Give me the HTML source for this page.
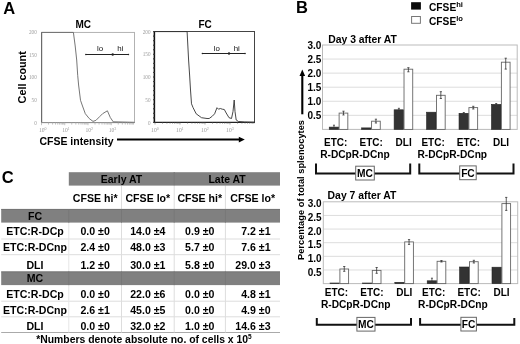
<!DOCTYPE html>
<html><head><meta charset="utf-8"><style>
html,body{margin:0;padding:0;background:#fff;}
svg{display:block;filter:blur(0.3px);}
</style></head><body>
<svg width="520" height="344" viewBox="0 0 520 344">
<rect width="520" height="344" fill="#fff"/>
<text x="3.3" y="14.4" font-size="16.5" font-weight="bold" font-family="&quot;Liberation Sans&quot;, sans-serif">A</text>
<text x="75.4" y="28" font-size="10" font-weight="bold" font-family="&quot;Liberation Sans&quot;, sans-serif">MC</text>
<text x="198.5" y="27.6" font-size="10" font-weight="bold" font-family="&quot;Liberation Sans&quot;, sans-serif">FC</text>
<rect x="41.5" y="32.4" width="93" height="90.2" fill="none" stroke="#aaa" stroke-width="0.9"/>
<line x1="41.7" y1="32.4" x2="41.7" y2="122.6" stroke="#5a5a5a" stroke-width="1"/>
<line x1="41.5" y1="122.6" x2="134.5" y2="122.6" stroke="#888" stroke-width="0.9"/>
<polyline fill="none" stroke="#666" stroke-width="0.9" points="41.5,32.4 73.4,32.4 75.2,46 76.7,60 77.7,75.3 78.6,85 80.5,100.3 82.5,106 85.3,113.7 89.2,118.5 93,121.4 95.9,120.4 99.7,116.6 102.6,113.7 107.4,110.8 110.3,117.5 113.2,121.8 134.5,122.3"/>
<line x1="85.7" y1="54.5" x2="128.6" y2="54.5" stroke="#222" stroke-width="1"/>
<circle cx="112.7" cy="54.5" r="1.2" fill="#222"/>
<circle cx="85.9" cy="54.5" r="0.8" fill="#222"/><circle cx="128.4" cy="54.5" r="0.8" fill="#222"/>
<text x="96.9" y="51.1" font-size="7.9" font-family="&quot;Liberation Sans&quot;, sans-serif" fill="#111">lo</text>
<text x="117.2" y="51.1" font-size="7.9" font-family="&quot;Liberation Sans&quot;, sans-serif" fill="#111">hi</text>
<text x="36.8" y="33.8" font-size="5.2" text-anchor="end" font-family="&quot;Liberation Serif&quot;, serif" fill="#999">200</text>
<text x="36.8" y="56.699999999999996" font-size="5.2" text-anchor="end" font-family="&quot;Liberation Serif&quot;, serif" fill="#999">150</text>
<text x="36.8" y="79.39999999999999" font-size="5.2" text-anchor="end" font-family="&quot;Liberation Serif&quot;, serif" fill="#999">100</text>
<text x="36.8" y="102.0" font-size="5.2" text-anchor="end" font-family="&quot;Liberation Serif&quot;, serif" fill="#999">50</text>
<text x="36.8" y="124.5" font-size="5.2" text-anchor="end" font-family="&quot;Liberation Serif&quot;, serif" fill="#999">0</text>
<text x="38.90" y="131.8" font-size="5.6" font-family="&quot;Liberation Serif&quot;, serif" fill="#999">10<tspan dy="-2.2" font-size="4">0</tspan></text>
<text x="62.15" y="131.8" font-size="5.6" font-family="&quot;Liberation Serif&quot;, serif" fill="#999">10<tspan dy="-2.2" font-size="4">1</tspan></text>
<text x="85.40" y="131.8" font-size="5.6" font-family="&quot;Liberation Serif&quot;, serif" fill="#999">10<tspan dy="-2.2" font-size="4">2</tspan></text>
<text x="108.65" y="131.8" font-size="5.6" font-family="&quot;Liberation Serif&quot;, serif" fill="#999">10<tspan dy="-2.2" font-size="4">3</tspan></text>
<line x1="41.50" y1="122.6" x2="41.50" y2="125.19999999999999" stroke="#aaa" stroke-width="0.7"/>
<line x1="48.50" y1="122.6" x2="48.50" y2="124.6" stroke="#aaa" stroke-width="0.7"/>
<line x1="52.59" y1="122.6" x2="52.59" y2="124.6" stroke="#aaa" stroke-width="0.7"/>
<line x1="55.50" y1="122.6" x2="55.50" y2="124.6" stroke="#aaa" stroke-width="0.7"/>
<line x1="57.75" y1="122.6" x2="57.75" y2="124.6" stroke="#aaa" stroke-width="0.7"/>
<line x1="59.59" y1="122.6" x2="59.59" y2="124.6" stroke="#aaa" stroke-width="0.7"/>
<line x1="61.15" y1="122.6" x2="61.15" y2="124.6" stroke="#aaa" stroke-width="0.7"/>
<line x1="62.50" y1="122.6" x2="62.50" y2="124.6" stroke="#aaa" stroke-width="0.7"/>
<line x1="63.69" y1="122.6" x2="63.69" y2="124.6" stroke="#aaa" stroke-width="0.7"/>
<line x1="64.75" y1="122.6" x2="64.75" y2="125.19999999999999" stroke="#aaa" stroke-width="0.7"/>
<line x1="71.75" y1="122.6" x2="71.75" y2="124.6" stroke="#aaa" stroke-width="0.7"/>
<line x1="75.84" y1="122.6" x2="75.84" y2="124.6" stroke="#aaa" stroke-width="0.7"/>
<line x1="78.75" y1="122.6" x2="78.75" y2="124.6" stroke="#aaa" stroke-width="0.7"/>
<line x1="81.00" y1="122.6" x2="81.00" y2="124.6" stroke="#aaa" stroke-width="0.7"/>
<line x1="82.84" y1="122.6" x2="82.84" y2="124.6" stroke="#aaa" stroke-width="0.7"/>
<line x1="84.40" y1="122.6" x2="84.40" y2="124.6" stroke="#aaa" stroke-width="0.7"/>
<line x1="85.75" y1="122.6" x2="85.75" y2="124.6" stroke="#aaa" stroke-width="0.7"/>
<line x1="86.94" y1="122.6" x2="86.94" y2="124.6" stroke="#aaa" stroke-width="0.7"/>
<line x1="88.00" y1="122.6" x2="88.00" y2="125.19999999999999" stroke="#aaa" stroke-width="0.7"/>
<line x1="95.00" y1="122.6" x2="95.00" y2="124.6" stroke="#aaa" stroke-width="0.7"/>
<line x1="99.09" y1="122.6" x2="99.09" y2="124.6" stroke="#aaa" stroke-width="0.7"/>
<line x1="102.00" y1="122.6" x2="102.00" y2="124.6" stroke="#aaa" stroke-width="0.7"/>
<line x1="104.25" y1="122.6" x2="104.25" y2="124.6" stroke="#aaa" stroke-width="0.7"/>
<line x1="106.09" y1="122.6" x2="106.09" y2="124.6" stroke="#aaa" stroke-width="0.7"/>
<line x1="107.65" y1="122.6" x2="107.65" y2="124.6" stroke="#aaa" stroke-width="0.7"/>
<line x1="109.00" y1="122.6" x2="109.00" y2="124.6" stroke="#aaa" stroke-width="0.7"/>
<line x1="110.19" y1="122.6" x2="110.19" y2="124.6" stroke="#aaa" stroke-width="0.7"/>
<line x1="111.25" y1="122.6" x2="111.25" y2="125.19999999999999" stroke="#aaa" stroke-width="0.7"/>
<line x1="118.25" y1="122.6" x2="118.25" y2="124.6" stroke="#aaa" stroke-width="0.7"/>
<line x1="122.34" y1="122.6" x2="122.34" y2="124.6" stroke="#aaa" stroke-width="0.7"/>
<line x1="125.25" y1="122.6" x2="125.25" y2="124.6" stroke="#aaa" stroke-width="0.7"/>
<line x1="127.50" y1="122.6" x2="127.50" y2="124.6" stroke="#aaa" stroke-width="0.7"/>
<line x1="129.34" y1="122.6" x2="129.34" y2="124.6" stroke="#aaa" stroke-width="0.7"/>
<line x1="130.90" y1="122.6" x2="130.90" y2="124.6" stroke="#aaa" stroke-width="0.7"/>
<line x1="132.25" y1="122.6" x2="132.25" y2="124.6" stroke="#aaa" stroke-width="0.7"/>
<line x1="133.44" y1="122.6" x2="133.44" y2="124.6" stroke="#aaa" stroke-width="0.7"/>
<rect x="154.4" y="31.5" width="100.1" height="91" fill="none" stroke="#444" stroke-width="1"/>
<line x1="154.4" y1="31.5" x2="154.4" y2="122.5" stroke="#111" stroke-width="1.5"/>
<line x1="154.4" y1="122.4" x2="255" y2="122.4" stroke="#222" stroke-width="1.2"/>
<polyline fill="none" stroke="#333" stroke-width="0.9" points="154.4,31.6 187.1,31.6 188.6,60 189.6,75 190.5,90 191.5,103.8 193.1,107.7 196.2,113.8 201.5,117.7 207,118.5 209.2,118.5 212.3,116.2 214.6,113.8 217,107.7 218.5,109.2 220.3,108.5 222.3,109.2 224.3,109.5 226.2,113 229,117.7 231.5,118.5 233,111.5 234.2,100 235,111.5 236.2,120 238.5,121.5 244.6,122 255,122.3"/>
<line x1="202.2" y1="53.5" x2="245.2" y2="53.5" stroke="#222" stroke-width="1"/>
<circle cx="229" cy="53.5" r="1.2" fill="#222"/>
<circle cx="202.4" cy="53.5" r="0.8" fill="#222"/><circle cx="245" cy="53.5" r="0.8" fill="#222"/>
<text x="213.7" y="50.6" font-size="7.9" font-family="&quot;Liberation Sans&quot;, sans-serif" fill="#111">lo</text>
<text x="233.7" y="50.6" font-size="7.9" font-family="&quot;Liberation Sans&quot;, sans-serif" fill="#111">hi</text>
<text x="150.5" y="33.6" font-size="5.2" text-anchor="end" font-family="&quot;Liberation Serif&quot;, serif" fill="#999">200</text>
<text x="150.5" y="56.3" font-size="5.2" text-anchor="end" font-family="&quot;Liberation Serif&quot;, serif" fill="#999">150</text>
<text x="150.5" y="79.0" font-size="5.2" text-anchor="end" font-family="&quot;Liberation Serif&quot;, serif" fill="#999">100</text>
<text x="150.5" y="101.7" font-size="5.2" text-anchor="end" font-family="&quot;Liberation Serif&quot;, serif" fill="#999">50</text>
<text x="150.5" y="125.3" font-size="5.2" text-anchor="end" font-family="&quot;Liberation Serif&quot;, serif" fill="#999">0</text>
<line x1="153" y1="122.40" x2="154" y2="122.40" stroke="#444" stroke-width="0.6"/>
<line x1="153" y1="122.4" x2="155" y2="122.4" stroke="#333" stroke-width="0.8"/>
<line x1="153" y1="117.86" x2="154" y2="117.86" stroke="#444" stroke-width="0.6"/>
<line x1="153" y1="117.86" x2="155" y2="117.86" stroke="#333" stroke-width="0.8"/>
<line x1="153" y1="113.32" x2="154" y2="113.32" stroke="#444" stroke-width="0.6"/>
<line x1="153" y1="113.32000000000001" x2="155" y2="113.32000000000001" stroke="#333" stroke-width="0.8"/>
<line x1="153" y1="108.78" x2="154" y2="108.78" stroke="#444" stroke-width="0.6"/>
<line x1="153" y1="108.78" x2="155" y2="108.78" stroke="#333" stroke-width="0.8"/>
<line x1="153" y1="104.24" x2="154" y2="104.24" stroke="#444" stroke-width="0.6"/>
<line x1="153" y1="104.24000000000001" x2="155" y2="104.24000000000001" stroke="#333" stroke-width="0.8"/>
<line x1="153" y1="99.70" x2="154" y2="99.70" stroke="#444" stroke-width="0.6"/>
<line x1="153" y1="99.7" x2="155" y2="99.7" stroke="#333" stroke-width="0.8"/>
<line x1="153" y1="95.16" x2="154" y2="95.16" stroke="#444" stroke-width="0.6"/>
<line x1="153" y1="95.16" x2="155" y2="95.16" stroke="#333" stroke-width="0.8"/>
<line x1="153" y1="90.62" x2="154" y2="90.62" stroke="#444" stroke-width="0.6"/>
<line x1="153" y1="90.62" x2="155" y2="90.62" stroke="#333" stroke-width="0.8"/>
<line x1="153" y1="86.08" x2="154" y2="86.08" stroke="#444" stroke-width="0.6"/>
<line x1="153" y1="86.08" x2="155" y2="86.08" stroke="#333" stroke-width="0.8"/>
<line x1="153" y1="81.54" x2="154" y2="81.54" stroke="#444" stroke-width="0.6"/>
<line x1="153" y1="81.54" x2="155" y2="81.54" stroke="#333" stroke-width="0.8"/>
<line x1="153" y1="77.00" x2="154" y2="77.00" stroke="#444" stroke-width="0.6"/>
<line x1="153" y1="77.0" x2="155" y2="77.0" stroke="#333" stroke-width="0.8"/>
<line x1="153" y1="72.46" x2="154" y2="72.46" stroke="#444" stroke-width="0.6"/>
<line x1="153" y1="72.46" x2="155" y2="72.46" stroke="#333" stroke-width="0.8"/>
<line x1="153" y1="67.92" x2="154" y2="67.92" stroke="#444" stroke-width="0.6"/>
<line x1="153" y1="67.92" x2="155" y2="67.92" stroke="#333" stroke-width="0.8"/>
<line x1="153" y1="63.38" x2="154" y2="63.38" stroke="#444" stroke-width="0.6"/>
<line x1="153" y1="63.38" x2="155" y2="63.38" stroke="#333" stroke-width="0.8"/>
<line x1="153" y1="58.84" x2="154" y2="58.84" stroke="#444" stroke-width="0.6"/>
<line x1="153" y1="58.83999999999999" x2="155" y2="58.83999999999999" stroke="#333" stroke-width="0.8"/>
<line x1="153" y1="54.30" x2="154" y2="54.30" stroke="#444" stroke-width="0.6"/>
<line x1="153" y1="54.3" x2="155" y2="54.3" stroke="#333" stroke-width="0.8"/>
<line x1="153" y1="49.76" x2="154" y2="49.76" stroke="#444" stroke-width="0.6"/>
<line x1="153" y1="49.75999999999999" x2="155" y2="49.75999999999999" stroke="#333" stroke-width="0.8"/>
<line x1="153" y1="45.22" x2="154" y2="45.22" stroke="#444" stroke-width="0.6"/>
<line x1="153" y1="45.22" x2="155" y2="45.22" stroke="#333" stroke-width="0.8"/>
<line x1="153" y1="40.68" x2="154" y2="40.68" stroke="#444" stroke-width="0.6"/>
<line x1="153" y1="40.68000000000001" x2="155" y2="40.68000000000001" stroke="#333" stroke-width="0.8"/>
<line x1="153" y1="36.14" x2="154" y2="36.14" stroke="#444" stroke-width="0.6"/>
<line x1="153" y1="36.139999999999986" x2="155" y2="36.139999999999986" stroke="#333" stroke-width="0.8"/>
<line x1="153" y1="31.60" x2="154" y2="31.60" stroke="#444" stroke-width="0.6"/>
<line x1="153" y1="31.599999999999994" x2="155" y2="31.599999999999994" stroke="#333" stroke-width="0.8"/>
<text x="151.10" y="131.8" font-size="5.6" font-family="&quot;Liberation Serif&quot;, serif" fill="#999">10<tspan dy="-2.2" font-size="4">0</tspan></text>
<text x="176.10" y="131.8" font-size="5.6" font-family="&quot;Liberation Serif&quot;, serif" fill="#999">10<tspan dy="-2.2" font-size="4">1</tspan></text>
<text x="201.10" y="131.8" font-size="5.6" font-family="&quot;Liberation Serif&quot;, serif" fill="#999">10<tspan dy="-2.2" font-size="4">2</tspan></text>
<text x="226.10" y="131.8" font-size="5.6" font-family="&quot;Liberation Serif&quot;, serif" fill="#999">10<tspan dy="-2.2" font-size="4">3</tspan></text>
<line x1="155.00" y1="122.5" x2="155.00" y2="124.5" stroke="#666" stroke-width="0.6"/>
<line x1="162.53" y1="122.5" x2="162.53" y2="123.7" stroke="#666" stroke-width="0.6"/>
<line x1="166.93" y1="122.5" x2="166.93" y2="123.7" stroke="#666" stroke-width="0.6"/>
<line x1="170.05" y1="122.5" x2="170.05" y2="123.7" stroke="#666" stroke-width="0.6"/>
<line x1="172.47" y1="122.5" x2="172.47" y2="123.7" stroke="#666" stroke-width="0.6"/>
<line x1="174.45" y1="122.5" x2="174.45" y2="123.7" stroke="#666" stroke-width="0.6"/>
<line x1="176.13" y1="122.5" x2="176.13" y2="123.7" stroke="#666" stroke-width="0.6"/>
<line x1="177.58" y1="122.5" x2="177.58" y2="123.7" stroke="#666" stroke-width="0.6"/>
<line x1="178.86" y1="122.5" x2="178.86" y2="123.7" stroke="#666" stroke-width="0.6"/>
<line x1="180.00" y1="122.5" x2="180.00" y2="124.5" stroke="#666" stroke-width="0.6"/>
<line x1="187.53" y1="122.5" x2="187.53" y2="123.7" stroke="#666" stroke-width="0.6"/>
<line x1="191.93" y1="122.5" x2="191.93" y2="123.7" stroke="#666" stroke-width="0.6"/>
<line x1="195.05" y1="122.5" x2="195.05" y2="123.7" stroke="#666" stroke-width="0.6"/>
<line x1="197.47" y1="122.5" x2="197.47" y2="123.7" stroke="#666" stroke-width="0.6"/>
<line x1="199.45" y1="122.5" x2="199.45" y2="123.7" stroke="#666" stroke-width="0.6"/>
<line x1="201.13" y1="122.5" x2="201.13" y2="123.7" stroke="#666" stroke-width="0.6"/>
<line x1="202.58" y1="122.5" x2="202.58" y2="123.7" stroke="#666" stroke-width="0.6"/>
<line x1="203.86" y1="122.5" x2="203.86" y2="123.7" stroke="#666" stroke-width="0.6"/>
<line x1="205.00" y1="122.5" x2="205.00" y2="124.5" stroke="#666" stroke-width="0.6"/>
<line x1="212.53" y1="122.5" x2="212.53" y2="123.7" stroke="#666" stroke-width="0.6"/>
<line x1="216.93" y1="122.5" x2="216.93" y2="123.7" stroke="#666" stroke-width="0.6"/>
<line x1="220.05" y1="122.5" x2="220.05" y2="123.7" stroke="#666" stroke-width="0.6"/>
<line x1="222.47" y1="122.5" x2="222.47" y2="123.7" stroke="#666" stroke-width="0.6"/>
<line x1="224.45" y1="122.5" x2="224.45" y2="123.7" stroke="#666" stroke-width="0.6"/>
<line x1="226.13" y1="122.5" x2="226.13" y2="123.7" stroke="#666" stroke-width="0.6"/>
<line x1="227.58" y1="122.5" x2="227.58" y2="123.7" stroke="#666" stroke-width="0.6"/>
<line x1="228.86" y1="122.5" x2="228.86" y2="123.7" stroke="#666" stroke-width="0.6"/>
<line x1="230.00" y1="122.5" x2="230.00" y2="124.5" stroke="#666" stroke-width="0.6"/>
<line x1="237.53" y1="122.5" x2="237.53" y2="123.7" stroke="#666" stroke-width="0.6"/>
<line x1="241.93" y1="122.5" x2="241.93" y2="123.7" stroke="#666" stroke-width="0.6"/>
<line x1="245.05" y1="122.5" x2="245.05" y2="123.7" stroke="#666" stroke-width="0.6"/>
<line x1="247.47" y1="122.5" x2="247.47" y2="123.7" stroke="#666" stroke-width="0.6"/>
<line x1="249.45" y1="122.5" x2="249.45" y2="123.7" stroke="#666" stroke-width="0.6"/>
<line x1="251.13" y1="122.5" x2="251.13" y2="123.7" stroke="#666" stroke-width="0.6"/>
<line x1="252.58" y1="122.5" x2="252.58" y2="123.7" stroke="#666" stroke-width="0.6"/>
<line x1="253.86" y1="122.5" x2="253.86" y2="123.7" stroke="#666" stroke-width="0.6"/>
<text transform="translate(26,77.3) rotate(-90)" x="0" y="0" font-size="10.8" font-weight="bold" text-anchor="middle" font-family="&quot;Liberation Sans&quot;, sans-serif">Cell count</text>
<text x="39.4" y="144.5" font-size="10.5" font-weight="bold" font-family="&quot;Liberation Sans&quot;, sans-serif">CFSE intensity</text>
<line x1="117" y1="139.6" x2="239.5" y2="139.6" stroke="#000" stroke-width="2"/>
<polygon points="238.8,136.8 244.8,139.6 238.8,142.6" fill="#000"/>
<text x="296" y="13.2" font-size="16.5" font-weight="bold" font-family="&quot;Liberation Sans&quot;, sans-serif">B</text>
<rect x="411.1" y="2.2" width="9.8" height="7.4" fill="#0a0a0a"/>
<rect x="411.6" y="16.5" width="8.8" height="6.8" fill="#fff" stroke="#777" stroke-width="1"/>
<text x="429" y="11.2" font-size="10.2" font-weight="bold" font-family="&quot;Liberation Sans&quot;, sans-serif">CFSE<tspan font-size="7.6" dy="-4">hi</tspan></text>
<text x="429" y="24.7" font-size="10.2" font-weight="bold" font-family="&quot;Liberation Sans&quot;, sans-serif">CFSE<tspan font-size="7.6" dy="-4">lo</tspan></text>
<text x="328.2" y="42.5" font-size="10.4" font-weight="bold" font-family="&quot;Liberation Sans&quot;, sans-serif">Day 3 after AT</text>
<line x1="322.5" y1="59.07" x2="517.2" y2="59.07" stroke="#ddd" stroke-width="1"/>
<line x1="322.5" y1="73.13" x2="517.2" y2="73.13" stroke="#ddd" stroke-width="1"/>
<line x1="322.5" y1="87.20" x2="517.2" y2="87.20" stroke="#ddd" stroke-width="1"/>
<line x1="322.5" y1="101.27" x2="517.2" y2="101.27" stroke="#ddd" stroke-width="1"/>
<line x1="322.5" y1="115.33" x2="517.2" y2="115.33" stroke="#ddd" stroke-width="1"/>
<rect x="322.5" y="45" width="194.70000000000005" height="84.4" fill="none" stroke="#bbb" stroke-width="1"/>
<text x="321.3" y="49.10" font-size="10" font-weight="bold" text-anchor="end" font-family="&quot;Liberation Sans&quot;, sans-serif">3.0</text>
<text x="321.3" y="63.17" font-size="10" font-weight="bold" text-anchor="end" font-family="&quot;Liberation Sans&quot;, sans-serif">2.5</text>
<text x="321.3" y="77.23" font-size="10" font-weight="bold" text-anchor="end" font-family="&quot;Liberation Sans&quot;, sans-serif">2.0</text>
<text x="321.3" y="91.30" font-size="10" font-weight="bold" text-anchor="end" font-family="&quot;Liberation Sans&quot;, sans-serif">1.5</text>
<text x="321.3" y="105.37" font-size="10" font-weight="bold" text-anchor="end" font-family="&quot;Liberation Sans&quot;, sans-serif">1.0</text>
<text x="321.3" y="119.43" font-size="10" font-weight="bold" text-anchor="end" font-family="&quot;Liberation Sans&quot;, sans-serif">0.5</text>
<rect x="329.23" y="127.10" width="9.5" height="2.30" fill="#333" stroke="#222" stroke-width="0.6"/>
<rect x="339.12" y="113.10" width="8.7" height="16.30" fill="#fff" stroke="#666" stroke-width="0.9"/>
<line x1="333.98" y1="125.2" x2="333.98" y2="127.1" stroke="#333" stroke-width="0.8"/>
<line x1="332.98" y1="125.2" x2="334.98" y2="125.2" stroke="#333" stroke-width="0.8"/>
<line x1="343.48" y1="111.2" x2="343.48" y2="115" stroke="#333" stroke-width="0.8"/>
<line x1="342.38" y1="111.2" x2="344.58" y2="111.2" stroke="#333" stroke-width="0.8"/>
<line x1="342.38" y1="115" x2="344.58" y2="115" stroke="#333" stroke-width="0.8"/>
<rect x="361.68" y="127.90" width="9.5" height="1.50" fill="#333" stroke="#222" stroke-width="0.6"/>
<rect x="371.57" y="121.20" width="8.7" height="8.20" fill="#fff" stroke="#666" stroke-width="0.9"/>
<line x1="375.93" y1="119.2" x2="375.93" y2="123" stroke="#333" stroke-width="0.8"/>
<line x1="374.82" y1="119.2" x2="377.03" y2="119.2" stroke="#333" stroke-width="0.8"/>
<line x1="374.82" y1="123" x2="377.03" y2="123" stroke="#333" stroke-width="0.8"/>
<rect x="394.12" y="109.80" width="9.5" height="19.60" fill="#333" stroke="#222" stroke-width="0.6"/>
<rect x="404.02" y="69.20" width="8.7" height="60.20" fill="#fff" stroke="#666" stroke-width="0.9"/>
<line x1="398.88" y1="108.3" x2="398.88" y2="110.5" stroke="#333" stroke-width="0.8"/>
<line x1="397.88" y1="108.3" x2="399.88" y2="108.3" stroke="#333" stroke-width="0.8"/>
<line x1="408.38" y1="67.7" x2="408.38" y2="71.8" stroke="#333" stroke-width="0.8"/>
<line x1="407.27" y1="67.7" x2="409.48" y2="67.7" stroke="#333" stroke-width="0.8"/>
<line x1="407.27" y1="71.8" x2="409.48" y2="71.8" stroke="#333" stroke-width="0.8"/>
<rect x="426.58" y="112.20" width="9.5" height="17.20" fill="#333" stroke="#222" stroke-width="0.6"/>
<rect x="436.48" y="95.30" width="8.7" height="34.10" fill="#fff" stroke="#666" stroke-width="0.9"/>
<line x1="440.83" y1="91.7" x2="440.83" y2="98.5" stroke="#333" stroke-width="0.8"/>
<line x1="439.73" y1="91.7" x2="441.93" y2="91.7" stroke="#333" stroke-width="0.8"/>
<line x1="439.73" y1="98.5" x2="441.93" y2="98.5" stroke="#333" stroke-width="0.8"/>
<rect x="459.03" y="113.30" width="9.5" height="16.10" fill="#333" stroke="#222" stroke-width="0.6"/>
<rect x="468.93" y="107.60" width="8.7" height="21.80" fill="#fff" stroke="#666" stroke-width="0.9"/>
<line x1="463.78" y1="112.5" x2="463.78" y2="114" stroke="#333" stroke-width="0.8"/>
<line x1="462.78" y1="112.5" x2="464.78" y2="112.5" stroke="#333" stroke-width="0.8"/>
<line x1="473.28" y1="106.3" x2="473.28" y2="109" stroke="#333" stroke-width="0.8"/>
<line x1="472.18" y1="106.3" x2="474.38" y2="106.3" stroke="#333" stroke-width="0.8"/>
<line x1="472.18" y1="109" x2="474.38" y2="109" stroke="#333" stroke-width="0.8"/>
<rect x="491.48" y="104.40" width="9.5" height="25.00" fill="#333" stroke="#222" stroke-width="0.6"/>
<rect x="501.38" y="62.20" width="8.7" height="67.20" fill="#fff" stroke="#666" stroke-width="0.9"/>
<line x1="496.23" y1="103.5" x2="496.23" y2="105" stroke="#333" stroke-width="0.8"/>
<line x1="495.23" y1="103.5" x2="497.23" y2="103.5" stroke="#333" stroke-width="0.8"/>
<line x1="505.73" y1="58.2" x2="505.73" y2="69.1" stroke="#333" stroke-width="0.8"/>
<line x1="504.62" y1="58.2" x2="506.83" y2="58.2" stroke="#333" stroke-width="0.8"/>
<line x1="504.62" y1="69.1" x2="506.83" y2="69.1" stroke="#333" stroke-width="0.8"/>
<text x="335.73" y="145.9" font-size="10" font-weight="bold" text-anchor="middle" font-family="&quot;Liberation Sans&quot;, sans-serif">ETC:</text>
<text x="371.18" y="145.9" font-size="10" font-weight="bold" text-anchor="middle" font-family="&quot;Liberation Sans&quot;, sans-serif">ETC:</text>
<text x="403.62" y="145.9" font-size="10" font-weight="bold" text-anchor="middle" font-family="&quot;Liberation Sans&quot;, sans-serif">DLI</text>
<text x="433.08" y="145.9" font-size="10" font-weight="bold" text-anchor="middle" font-family="&quot;Liberation Sans&quot;, sans-serif">ETC:</text>
<text x="468.53" y="145.9" font-size="10" font-weight="bold" text-anchor="middle" font-family="&quot;Liberation Sans&quot;, sans-serif">ETC:</text>
<text x="500.98" y="145.9" font-size="10" font-weight="bold" text-anchor="middle" font-family="&quot;Liberation Sans&quot;, sans-serif">DLI</text>
<text x="354.95" y="157.9" font-size="10.2" font-weight="bold" text-anchor="middle" font-family="&quot;Liberation Sans&quot;, sans-serif">R-DCpR-DCnp</text>
<text x="452.30" y="157.9" font-size="10.2" font-weight="bold" text-anchor="middle" font-family="&quot;Liberation Sans&quot;, sans-serif">R-DCpR-DCnp</text>
<polyline fill="none" stroke="#111" stroke-width="2" points="316.0,163.5 316.0,173.6 410.2,173.6 410.2,163.5"/>
<rect x="355.70" y="166.20" width="18.60" height="13.80" fill="#fff" stroke="#666" stroke-width="1"/>
<text x="365.00" y="177.20" font-size="10.2" font-weight="bold" text-anchor="middle" font-family="&quot;Liberation Sans&quot;, sans-serif">MC</text>
<polyline fill="none" stroke="#111" stroke-width="2" points="419.3,163.5 419.3,173.6 513.5,173.6 513.5,163.5"/>
<rect x="459.70" y="165.90" width="16.50" height="13.80" fill="#fff" stroke="#666" stroke-width="1"/>
<text x="467.95" y="176.90" font-size="10.2" font-weight="bold" text-anchor="middle" font-family="&quot;Liberation Sans&quot;, sans-serif">FC</text>
<text x="327.6" y="198.9" font-size="10.4" font-weight="bold" font-family="&quot;Liberation Sans&quot;, sans-serif">Day 7 after AT</text>
<line x1="323.3" y1="215.43" x2="517.7" y2="215.43" stroke="#ddd" stroke-width="1"/>
<line x1="323.3" y1="229.07" x2="517.7" y2="229.07" stroke="#ddd" stroke-width="1"/>
<line x1="323.3" y1="242.70" x2="517.7" y2="242.70" stroke="#ddd" stroke-width="1"/>
<line x1="323.3" y1="256.33" x2="517.7" y2="256.33" stroke="#ddd" stroke-width="1"/>
<line x1="323.3" y1="269.97" x2="517.7" y2="269.97" stroke="#ddd" stroke-width="1"/>
<rect x="323.3" y="201.8" width="194.40000000000003" height="81.80000000000001" fill="none" stroke="#bbb" stroke-width="1"/>
<text x="321.6" y="207.00" font-size="10" font-weight="bold" text-anchor="end" font-family="&quot;Liberation Sans&quot;, sans-serif">3.0</text>
<text x="321.6" y="220.78" font-size="10" font-weight="bold" text-anchor="end" font-family="&quot;Liberation Sans&quot;, sans-serif">2.5</text>
<text x="321.6" y="234.57" font-size="10" font-weight="bold" text-anchor="end" font-family="&quot;Liberation Sans&quot;, sans-serif">2.0</text>
<text x="321.6" y="248.35" font-size="10" font-weight="bold" text-anchor="end" font-family="&quot;Liberation Sans&quot;, sans-serif">1.5</text>
<text x="321.6" y="262.13" font-size="10" font-weight="bold" text-anchor="end" font-family="&quot;Liberation Sans&quot;, sans-serif">1.0</text>
<text x="321.6" y="275.92" font-size="10" font-weight="bold" text-anchor="end" font-family="&quot;Liberation Sans&quot;, sans-serif">0.5</text>
<rect x="330.00" y="283.00" width="9.5" height="0.60" fill="#333" stroke="#222" stroke-width="0.6"/>
<rect x="339.90" y="269.00" width="8.7" height="14.60" fill="#fff" stroke="#666" stroke-width="0.9"/>
<line x1="344.25" y1="266.5" x2="344.25" y2="271.3" stroke="#333" stroke-width="0.8"/>
<line x1="343.15" y1="266.5" x2="345.35" y2="266.5" stroke="#333" stroke-width="0.8"/>
<line x1="343.15" y1="271.3" x2="345.35" y2="271.3" stroke="#333" stroke-width="0.8"/>
<rect x="362.40" y="283.00" width="9.5" height="0.60" fill="#333" stroke="#222" stroke-width="0.6"/>
<rect x="372.30" y="270.40" width="8.7" height="13.20" fill="#fff" stroke="#666" stroke-width="0.9"/>
<line x1="376.65" y1="267.5" x2="376.65" y2="273.3" stroke="#333" stroke-width="0.8"/>
<line x1="375.55" y1="267.5" x2="377.75" y2="267.5" stroke="#333" stroke-width="0.8"/>
<line x1="375.55" y1="273.3" x2="377.75" y2="273.3" stroke="#333" stroke-width="0.8"/>
<rect x="394.80" y="282.30" width="9.5" height="1.30" fill="#333" stroke="#222" stroke-width="0.6"/>
<rect x="404.70" y="241.90" width="8.7" height="41.70" fill="#fff" stroke="#666" stroke-width="0.9"/>
<line x1="409.05" y1="239.6" x2="409.05" y2="244.4" stroke="#333" stroke-width="0.8"/>
<line x1="407.95" y1="239.6" x2="410.15" y2="239.6" stroke="#333" stroke-width="0.8"/>
<line x1="407.95" y1="244.4" x2="410.15" y2="244.4" stroke="#333" stroke-width="0.8"/>
<rect x="427.20" y="280.80" width="9.5" height="2.80" fill="#333" stroke="#222" stroke-width="0.6"/>
<rect x="437.10" y="261.30" width="8.7" height="22.30" fill="#fff" stroke="#666" stroke-width="0.9"/>
<line x1="431.95" y1="278.2" x2="431.95" y2="281" stroke="#333" stroke-width="0.8"/>
<line x1="430.95" y1="278.2" x2="432.95" y2="278.2" stroke="#333" stroke-width="0.8"/>
<line x1="441.45" y1="260.5" x2="441.45" y2="262" stroke="#333" stroke-width="0.8"/>
<line x1="440.35" y1="260.5" x2="442.55" y2="260.5" stroke="#333" stroke-width="0.8"/>
<line x1="440.35" y1="262" x2="442.55" y2="262" stroke="#333" stroke-width="0.8"/>
<rect x="459.60" y="267.00" width="9.5" height="16.60" fill="#333" stroke="#222" stroke-width="0.6"/>
<rect x="469.50" y="261.70" width="8.7" height="21.90" fill="#fff" stroke="#666" stroke-width="0.9"/>
<line x1="473.85" y1="260.3" x2="473.85" y2="263" stroke="#333" stroke-width="0.8"/>
<line x1="472.75" y1="260.3" x2="474.95" y2="260.3" stroke="#333" stroke-width="0.8"/>
<line x1="472.75" y1="263" x2="474.95" y2="263" stroke="#333" stroke-width="0.8"/>
<rect x="492.00" y="267.20" width="9.5" height="16.40" fill="#333" stroke="#222" stroke-width="0.6"/>
<rect x="501.90" y="203.60" width="8.7" height="80.00" fill="#fff" stroke="#666" stroke-width="0.9"/>
<line x1="506.25" y1="197.4" x2="506.25" y2="210.4" stroke="#333" stroke-width="0.8"/>
<line x1="505.15" y1="197.4" x2="507.35" y2="197.4" stroke="#333" stroke-width="0.8"/>
<line x1="505.15" y1="210.4" x2="507.35" y2="210.4" stroke="#333" stroke-width="0.8"/>
<text x="336.50" y="296" font-size="10" font-weight="bold" text-anchor="middle" font-family="&quot;Liberation Sans&quot;, sans-serif">ETC:</text>
<text x="371.90" y="296" font-size="10" font-weight="bold" text-anchor="middle" font-family="&quot;Liberation Sans&quot;, sans-serif">ETC:</text>
<text x="404.30" y="296" font-size="10" font-weight="bold" text-anchor="middle" font-family="&quot;Liberation Sans&quot;, sans-serif">DLI</text>
<text x="433.70" y="296" font-size="10" font-weight="bold" text-anchor="middle" font-family="&quot;Liberation Sans&quot;, sans-serif">ETC:</text>
<text x="469.10" y="296" font-size="10" font-weight="bold" text-anchor="middle" font-family="&quot;Liberation Sans&quot;, sans-serif">ETC:</text>
<text x="501.50" y="296" font-size="10" font-weight="bold" text-anchor="middle" font-family="&quot;Liberation Sans&quot;, sans-serif">DLI</text>
<text x="355.70" y="308" font-size="10.2" font-weight="bold" text-anchor="middle" font-family="&quot;Liberation Sans&quot;, sans-serif">R-DCpR-DCnp</text>
<text x="452.90" y="308" font-size="10.2" font-weight="bold" text-anchor="middle" font-family="&quot;Liberation Sans&quot;, sans-serif">R-DCpR-DCnp</text>
<polyline fill="none" stroke="#111" stroke-width="2" points="316.8,318 316.8,324.7 411.0,324.7 411.0,318"/>
<rect x="356.90" y="317.40" width="18.10" height="13.70" fill="#fff" stroke="#666" stroke-width="1"/>
<text x="365.95" y="328.30" font-size="10.2" font-weight="bold" text-anchor="middle" font-family="&quot;Liberation Sans&quot;, sans-serif">MC</text>
<polyline fill="none" stroke="#111" stroke-width="2" points="420.1,318 420.1,324.7 514.3000000000001,324.7 514.3000000000001,318"/>
<rect x="460.90" y="317.30" width="15.50" height="13.70" fill="#fff" stroke="#666" stroke-width="1"/>
<text x="468.65" y="328.20" font-size="10.2" font-weight="bold" text-anchor="middle" font-family="&quot;Liberation Sans&quot;, sans-serif">FC</text>
<text transform="translate(303.7,190) rotate(-90)" x="0" y="0" font-size="9.3" font-weight="bold" text-anchor="middle" font-family="&quot;Liberation Sans&quot;, sans-serif">Percentage of total splenocytes</text>
<line x1="302.3" y1="74" x2="302.3" y2="114.3" stroke="#000" stroke-width="2.1"/>
<polygon points="299.5,75.9 302.3,69.5 305.1,75.9" fill="#000"/>
<text x="1.7" y="182.5" font-size="16.5" font-weight="bold" font-family="&quot;Liberation Sans&quot;, sans-serif">C</text>
<line x1="1.2" y1="239" x2="280" y2="239" stroke="#ddd" stroke-width="1"/>
<line x1="1.2" y1="254.7" x2="280" y2="254.7" stroke="#ddd" stroke-width="1"/>
<line x1="1.2" y1="301.2" x2="280" y2="301.2" stroke="#ddd" stroke-width="1"/>
<line x1="1.2" y1="316.8" x2="280" y2="316.8" stroke="#ddd" stroke-width="1"/>
<line x1="1.2" y1="332.5" x2="280" y2="332.5" stroke="#aaa" stroke-width="1"/>
<line x1="121.5" y1="185.3" x2="121.5" y2="332.5" stroke="#ddd" stroke-width="1"/>
<line x1="174.2" y1="185.3" x2="174.2" y2="332.5" stroke="#ddd" stroke-width="1"/>
<line x1="225.4" y1="185.3" x2="225.4" y2="332.5" stroke="#ddd" stroke-width="1"/>
<line x1="68.8" y1="209" x2="68.8" y2="332.5" stroke="#e6e6e6" stroke-width="1"/>
<rect x="68.8" y="172.2" width="211.2" height="13.4" fill="#808080"/>
<rect x="1.2" y="209" width="278.8" height="13.6" fill="#808080"/>
<rect x="1.2" y="271.5" width="278.8" height="13.6" fill="#808080"/>
<line x1="1.2" y1="209.4" x2="280" y2="209.4" stroke="#707070" stroke-width="0.8"/>
<line x1="68.8" y1="209" x2="68.8" y2="222.6" stroke="#777" stroke-width="1"/>
<line x1="121.5" y1="209" x2="121.5" y2="222.6" stroke="#777" stroke-width="1"/>
<line x1="174.2" y1="209" x2="174.2" y2="222.6" stroke="#777" stroke-width="1"/>
<line x1="225.4" y1="209" x2="225.4" y2="222.6" stroke="#777" stroke-width="1"/>
<line x1="1.2" y1="271.9" x2="280" y2="271.9" stroke="#707070" stroke-width="0.8"/>
<line x1="68.8" y1="271.5" x2="68.8" y2="285.1" stroke="#777" stroke-width="1"/>
<line x1="121.5" y1="271.5" x2="121.5" y2="285.1" stroke="#777" stroke-width="1"/>
<line x1="174.2" y1="271.5" x2="174.2" y2="285.1" stroke="#777" stroke-width="1"/>
<line x1="225.4" y1="271.5" x2="225.4" y2="285.1" stroke="#777" stroke-width="1"/>
<line x1="174.2" y1="172" x2="174.2" y2="185.3" stroke="#777" stroke-width="1"/>
<text x="121.5" y="183.3" font-size="10.5" font-weight="bold" text-anchor="middle" font-family="&quot;Liberation Sans&quot;, sans-serif">Early AT</text>
<text x="227.1" y="183.3" font-size="10.5" font-weight="bold" text-anchor="middle" font-family="&quot;Liberation Sans&quot;, sans-serif">Late AT</text>
<text x="95.15" y="201.6" font-size="10.6" font-weight="bold" text-anchor="middle" font-family="&quot;Liberation Sans&quot;, sans-serif">CFSE hi*</text>
<text x="147.85" y="201.6" font-size="10.6" font-weight="bold" text-anchor="middle" font-family="&quot;Liberation Sans&quot;, sans-serif">CFSE lo*</text>
<text x="199.80" y="201.6" font-size="10.6" font-weight="bold" text-anchor="middle" font-family="&quot;Liberation Sans&quot;, sans-serif">CFSE hi*</text>
<text x="252.70" y="201.6" font-size="10.6" font-weight="bold" text-anchor="middle" font-family="&quot;Liberation Sans&quot;, sans-serif">CFSE lo*</text>
<text x="35.00" y="220" font-size="10.6" font-weight="bold" text-anchor="middle" font-family="&quot;Liberation Sans&quot;, sans-serif">FC</text>
<text x="35.00" y="282.2" font-size="10.6" font-weight="bold" text-anchor="middle" font-family="&quot;Liberation Sans&quot;, sans-serif">MC</text>
<text x="35.00" y="235.1" font-size="10.6" font-weight="bold" text-anchor="middle" font-family="&quot;Liberation Sans&quot;, sans-serif">ETC:R-DCp</text>
<text x="95.15" y="235.1" font-size="10.6" font-weight="bold" text-anchor="middle" font-family="&quot;Liberation Sans&quot;, sans-serif">0.0 ±0</text>
<text x="147.85" y="235.1" font-size="10.6" font-weight="bold" text-anchor="middle" font-family="&quot;Liberation Sans&quot;, sans-serif">14.0 ±4</text>
<text x="199.80" y="235.1" font-size="10.6" font-weight="bold" text-anchor="middle" font-family="&quot;Liberation Sans&quot;, sans-serif">0.9 ±0</text>
<text x="270.6" y="235.1" font-size="10.6" font-weight="bold" text-anchor="end" font-family="&quot;Liberation Sans&quot;, sans-serif">7.2 ±1</text>
<text x="35.00" y="251.3" font-size="10.6" font-weight="bold" text-anchor="middle" font-family="&quot;Liberation Sans&quot;, sans-serif">ETC:R-DCnp</text>
<text x="95.15" y="251.3" font-size="10.6" font-weight="bold" text-anchor="middle" font-family="&quot;Liberation Sans&quot;, sans-serif">2.4 ±0</text>
<text x="147.85" y="251.3" font-size="10.6" font-weight="bold" text-anchor="middle" font-family="&quot;Liberation Sans&quot;, sans-serif">48.0 ±3</text>
<text x="199.80" y="251.3" font-size="10.6" font-weight="bold" text-anchor="middle" font-family="&quot;Liberation Sans&quot;, sans-serif">5.7 ±0</text>
<text x="270.6" y="251.3" font-size="10.6" font-weight="bold" text-anchor="end" font-family="&quot;Liberation Sans&quot;, sans-serif">7.6 ±1</text>
<text x="35.00" y="268.6" font-size="10.6" font-weight="bold" text-anchor="middle" font-family="&quot;Liberation Sans&quot;, sans-serif">DLI</text>
<text x="95.15" y="268.6" font-size="10.6" font-weight="bold" text-anchor="middle" font-family="&quot;Liberation Sans&quot;, sans-serif">1.2 ±0</text>
<text x="147.85" y="268.6" font-size="10.6" font-weight="bold" text-anchor="middle" font-family="&quot;Liberation Sans&quot;, sans-serif">30.0 ±1</text>
<text x="199.80" y="268.6" font-size="10.6" font-weight="bold" text-anchor="middle" font-family="&quot;Liberation Sans&quot;, sans-serif">5.8 ±0</text>
<text x="270.6" y="268.6" font-size="10.6" font-weight="bold" text-anchor="end" font-family="&quot;Liberation Sans&quot;, sans-serif">29.0 ±3</text>
<text x="35.00" y="298" font-size="10.6" font-weight="bold" text-anchor="middle" font-family="&quot;Liberation Sans&quot;, sans-serif">ETC:R-DCp</text>
<text x="95.15" y="298" font-size="10.6" font-weight="bold" text-anchor="middle" font-family="&quot;Liberation Sans&quot;, sans-serif">0.0 ±0</text>
<text x="147.85" y="298" font-size="10.6" font-weight="bold" text-anchor="middle" font-family="&quot;Liberation Sans&quot;, sans-serif">22.0 ±6</text>
<text x="199.80" y="298" font-size="10.6" font-weight="bold" text-anchor="middle" font-family="&quot;Liberation Sans&quot;, sans-serif">0.0 ±0</text>
<text x="270.6" y="298" font-size="10.6" font-weight="bold" text-anchor="end" font-family="&quot;Liberation Sans&quot;, sans-serif">4.8 ±1</text>
<text x="35.00" y="314" font-size="10.6" font-weight="bold" text-anchor="middle" font-family="&quot;Liberation Sans&quot;, sans-serif">ETC:R-DCnp</text>
<text x="95.15" y="314" font-size="10.6" font-weight="bold" text-anchor="middle" font-family="&quot;Liberation Sans&quot;, sans-serif">2.6 ±1</text>
<text x="147.85" y="314" font-size="10.6" font-weight="bold" text-anchor="middle" font-family="&quot;Liberation Sans&quot;, sans-serif">45.0 ±5</text>
<text x="199.80" y="314" font-size="10.6" font-weight="bold" text-anchor="middle" font-family="&quot;Liberation Sans&quot;, sans-serif">0.0 ±0</text>
<text x="270.6" y="314" font-size="10.6" font-weight="bold" text-anchor="end" font-family="&quot;Liberation Sans&quot;, sans-serif">4.9 ±0</text>
<text x="35.00" y="329.8" font-size="10.6" font-weight="bold" text-anchor="middle" font-family="&quot;Liberation Sans&quot;, sans-serif">DLI</text>
<text x="95.15" y="329.8" font-size="10.6" font-weight="bold" text-anchor="middle" font-family="&quot;Liberation Sans&quot;, sans-serif">0.0 ±0</text>
<text x="147.85" y="329.8" font-size="10.6" font-weight="bold" text-anchor="middle" font-family="&quot;Liberation Sans&quot;, sans-serif">32.0 ±2</text>
<text x="199.80" y="329.8" font-size="10.6" font-weight="bold" text-anchor="middle" font-family="&quot;Liberation Sans&quot;, sans-serif">1.0 ±0</text>
<text x="270.6" y="329.8" font-size="10.6" font-weight="bold" text-anchor="end" font-family="&quot;Liberation Sans&quot;, sans-serif">14.6 ±3</text>
<text x="36.2" y="343" font-size="10.4" font-weight="bold" font-family="&quot;Liberation Sans&quot;, sans-serif">*Numbers denote absolute no. of cells x 10<tspan font-size="6.5" dy="-4">5</tspan></text>
</svg>
</body></html>
